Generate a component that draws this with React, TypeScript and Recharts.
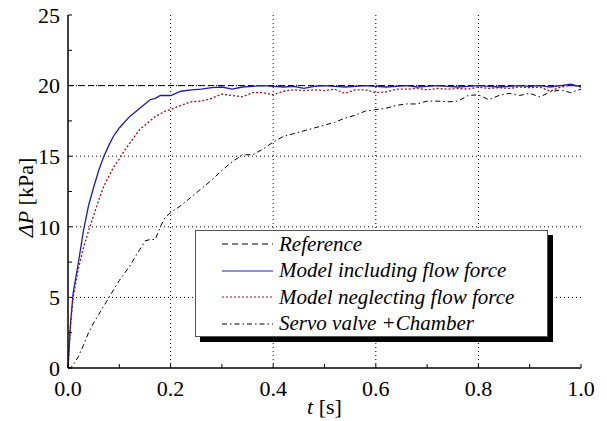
import { LineChart, Line, XAxis, YAxis, CartesianGrid, Legend, Label } from "recharts";

const times = [
  0, 0.005, 0.01, 0.02, 0.03, 0.04, 0.05, 0.06, 0.07, 0.08, 0.09, 0.1, 0.11, 0.12, 0.13, 0.14, 0.15,
  0.16, 0.17, 0.18, 0.19, 0.2, 0.22, 0.24, 0.26, 0.28, 0.3, 0.32, 0.34, 0.36, 0.38, 0.4, 0.42, 0.44,
  0.46, 0.48, 0.5, 0.52, 0.54, 0.56, 0.58, 0.6, 0.62, 0.64, 0.66, 0.68, 0.7, 0.72, 0.74, 0.76, 0.78,
  0.8, 0.82, 0.84, 0.86, 0.88, 0.9, 0.92, 0.94, 0.96, 0.98, 1.0,
];

const includingFlow = [
  0, 3.2, 5.3, 7.4, 9.7, 11.5, 12.8, 14.0, 15.0, 15.8, 16.5, 17.0, 17.4, 17.8, 18.1, 18.4, 18.7,
  19.0, 19.1, 19.3, 19.3, 19.3, 19.6, 19.7, 19.75, 19.85, 19.9, 19.75, 19.9, 19.95, 20.0, 19.95, 19.9, 19.95,
  19.8, 19.95, 20.0, 19.95, 19.9, 19.95, 20.0, 19.95, 19.9, 19.95, 20.0, 19.9, 19.95, 20.0, 19.95, 19.9, 19.95,
  20.0, 19.95, 19.9, 19.95, 20.0, 19.95, 20.0, 19.9, 20.0, 20.1, 19.9,
];

const neglectingFlow = [
  0, 3.0, 5.0, 7.0, 8.5, 9.7, 10.8, 11.9, 12.9, 13.6, 14.3, 14.8, 15.4, 15.9, 16.4, 16.9, 17.2,
  17.5, 17.8, 18.0, 18.2, 18.3, 18.6, 18.85, 18.9, 19.1, 19.4, 19.3, 19.2, 19.5, 19.5, 19.35, 19.6, 19.7,
  19.65, 19.7, 19.65, 19.75, 19.45, 19.7, 19.7, 19.5, 19.55, 19.75, 19.75, 19.8, 19.7, 19.8, 19.75, 19.8, 19.75,
  19.9, 19.8, 19.85, 19.8, 19.9, 19.85, 19.9, 19.6, 19.9, 20.0, 19.95,
];

const servoChamber = [
  0, 0, 0.2, 0.8, 1.6, 2.5, 3.2, 3.8, 4.4, 5.0, 5.6, 6.2, 6.7, 7.2, 7.8, 8.4, 9.0,
  9.1, 9.1, 10.0, 10.7, 11.0, 11.5, 12.1, 12.7, 13.3, 14.0, 14.6, 15.1, 15.1, 15.5, 16.0, 16.4, 16.6,
  16.8, 17.0, 17.2, 17.4, 17.7, 17.9, 18.2, 18.3, 18.4, 18.6, 18.7, 18.7, 18.9, 18.9, 18.85, 18.9, 19.3,
  19.35, 19.0, 19.3, 19.45, 19.3, 19.45, 19.2, 19.55, 19.7, 19.5, 19.75,
];

const refTimes = [0, 1];
const refValues = [20, 20];

const xTicks = [0, 0.1, 0.2, 0.3, 0.4, 0.5, 0.6, 0.7, 0.8, 0.9, 1.0];
const xTickLabels = ["0.0", "", "0.2", "", "0.4", "", "0.6", "", "0.8", "", "1.0"];
const yTicks = [0, 2.5, 5, 7.5, 10, 12.5, 15, 17.5, 20, 22.5, 25];
const yTickLabels = ["0", "", "5", "", "10", "", "15", "", "20", "", "25"];
const xGrid = [0.2, 0.4, 0.6, 0.8];
const yGrid = [5, 10, 15, 20];

const seriesNames = [
  "Reference",
  "Model including flow force",
  "Model neglecting flow force",
  "Servo valve +Chamber",
];

const serif = "Liberation Serif, Times New Roman, Times, DejaVu Serif, serif";

const toRows = (ts: number[], vs: number[]) => ts.map((t, i) => ({ t, v: vs[i] }));

const series = [
  { name: seriesNames[0], rows: toRows(refTimes, refValues), color: "#000", dash: "6 4", width: 1 },
  { name: seriesNames[1], rows: toRows(times, includingFlow), color: "#1c1cb4", dash: undefined, width: 1.3 },
  { name: seriesNames[2], rows: toRows(times, neglectingFlow), color: "#a01414", dash: "2 2", width: 1.3 },
  { name: seriesNames[3], rows: toRows(times, servoChamber), color: "#000", dash: "5 3 1.5 3", width: 1 },
];

function LegendBox() {
  return (
    <div
      style={{
        width: 353,
        height: 107,
        boxSizing: "border-box",
        border: "1px solid #555",
        background: "#fff",
        boxShadow: "5px 5px 0 #000",
        fontFamily: serif,
        fontStyle: "italic",
        fontSize: 21,
        color: "#000",
      }}
    >
      {series.map((s) => (
        <div key={s.name} style={{ height: 26.5, display: "flex", alignItems: "center" }}>
          <svg width={78} height={26} style={{ flex: "none" }}>
            <line x1={26} x2={77} y1={13} y2={13} stroke={s.color} strokeWidth={1} strokeDasharray={s.dash} />
          </svg>
          <span style={{ marginLeft: 5, whiteSpace: "nowrap" }}>{s.name}</span>
        </div>
      ))}
    </div>
  );
}

const renderXLabel = (props: any) => {
  const vb = props.viewBox || { x: 68, y: 368, width: 513, height: 53 };
  const cx = vb.x + vb.width / 2;
  return (
    <text x={cx} y={vb.y + 46} textAnchor="middle" style={{ fontFamily: serif }} fontSize={22} fill="#000">
      <tspan fontStyle="italic">t</tspan> [s]
    </text>
  );
};

const renderYLabel = (props: any) => {
  const vb = props.viewBox || { x: 0, y: 15, width: 68, height: 353 };
  const cx = vb.x + 33;
  const cy = vb.y + vb.height / 2 + 6;
  return (
    <text
      x={cx}
      y={cy}
      transform={`rotate(-90 ${cx} ${cy})`}
      textAnchor="middle"
      style={{ fontFamily: serif }}
      fontSize={22}
      fill="#000"
    >
      <tspan fontStyle="italic">ΔP</tspan> [kPa]
    </text>
  );
};

const axisLine = { stroke: "#000", strokeWidth: 1.5 };
const tickLine = { stroke: "#000", strokeWidth: 1 };
const tickFont = { fontSize: 22, fill: "#000", style: { fontFamily: serif } };

export default function App() {
  return (
    <div style={{ position: "absolute", left: 0, top: 0, background: "#fff", fontFamily: serif }}>
      <LineChart width={607} height={421} margin={{ top: 15, right: 26, bottom: 0, left: 0 }}>
        <CartesianGrid
          horizontal
          vertical
          verticalValues={xGrid}
          horizontalValues={yGrid}
          stroke="#000"
          strokeDasharray="1 3"
        />
        <XAxis
          dataKey="t"
          type="number"
          domain={[0, 1]}
          ticks={xTicks}
          interval={0}
          height={53}
          axisLine={axisLine}
          tickLine={tickLine}
          tickSize={-4}
          tickMargin={16}
          tick={tickFont}
          tickFormatter={(v: number) => xTickLabels[xTicks.indexOf(v)] ?? ""}
          allowDataOverflow
        >
          <Label content={renderXLabel} />
        </XAxis>
        <XAxis
          xAxisId="top"
          orientation="top"
          dataKey="t"
          type="number"
          domain={[0, 1]}
          ticks={xTicks}
          interval={0}
          height={0}
          axisLine={axisLine}
          tickLine={tickLine}
          tickSize={-4}
          tickFormatter={() => ""}
        />
        <YAxis
          type="number"
          domain={[0, 25]}
          ticks={yTicks}
          interval={0}
          width={68}
          axisLine={axisLine}
          tickLine={tickLine}
          tickSize={-4}
          tickMargin={12}
          tick={tickFont}
          tickFormatter={(v: number) => yTickLabels[yTicks.indexOf(v)] ?? ""}
          allowDataOverflow
        >
          <Label content={renderYLabel} />
        </YAxis>
        <YAxis
          yAxisId="right"
          orientation="right"
          type="number"
          domain={[0, 25]}
          ticks={yTicks}
          interval={0}
          width={0}
          axisLine={axisLine}
          tickLine={tickLine}
          tickSize={-4}
          tickFormatter={() => ""}
        />
        {series.map((s) => (
          <Line
            key={s.name}
            data={s.rows}
            dataKey="v"
            name={s.name}
            type="linear"
            stroke={s.color}
            strokeWidth={s.width}
            strokeDasharray={s.dash}
            dot={false}
            activeDot={false}
            isAnimationActive={false}
          />
        ))}
        <Legend
          layout="horizontal"
          verticalAlign="middle"
          align="center"
          content={() => <LegendBox />}
          wrapperStyle={{ position: "absolute", left: 195, top: 230, width: 353, height: 107 }}
        />
      </LineChart>
    </div>
  );
}
